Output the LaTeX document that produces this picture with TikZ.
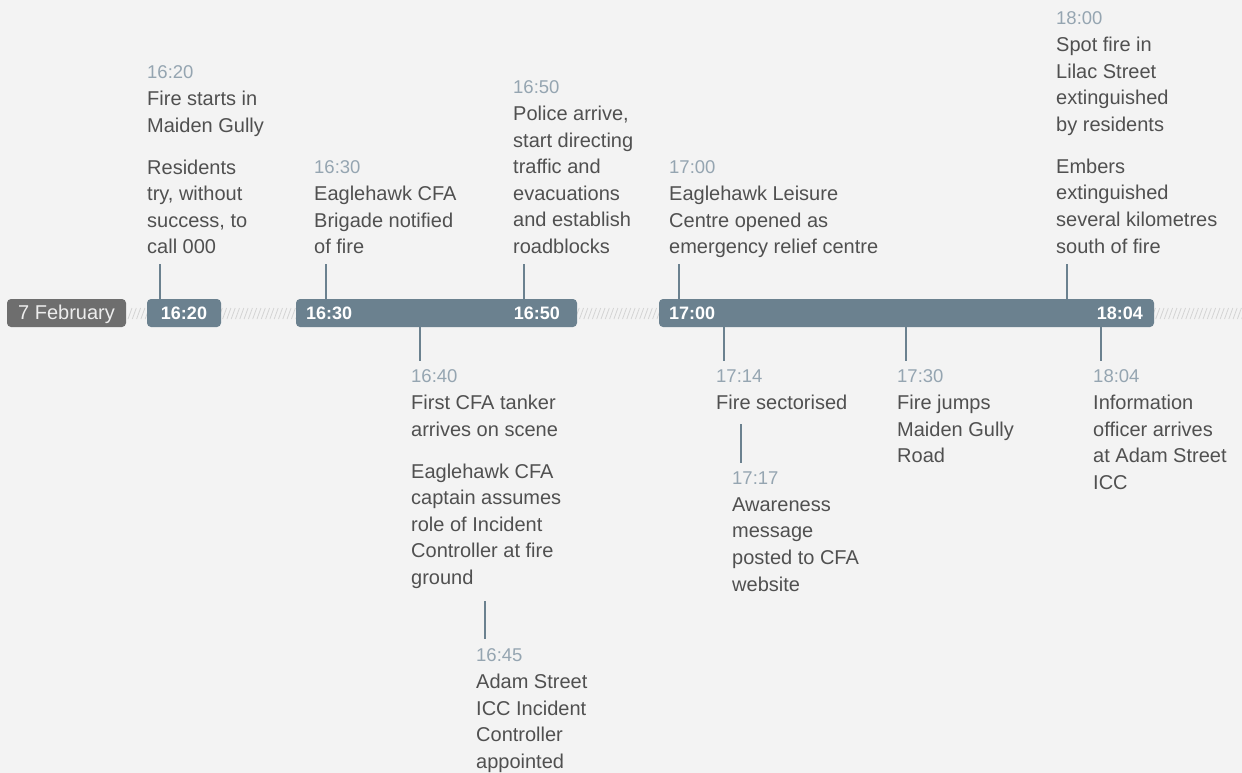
\documentclass[tikz,border=0pt]{standalone}
\usepackage{fontspec}
\setmainfont{Liberation Sans}
\usetikzlibrary{positioning}

\definecolor{bgcol}{HTML}{F3F3F3}
\definecolor{barcol}{HTML}{6B818F}
\definecolor{datecol}{HTML}{6E6E6E}
\definecolor{timecol}{HTML}{95A5B1}
\definecolor{txtcol}{HTML}{505050}
\definecolor{hatchcol}{HTML}{D4D4D4}
\newcommand{\evtime}[1]{{\fontsize{18.5}{26.6}\selectfont\color{timecol}#1}}

\begin{document}
\begin{tikzpicture}[x=1pt,y=-1pt,
  event/.style={anchor=north west,align=left,inner sep=0pt,text=txtcol,
                font=\fontsize{20}{26.6}\selectfont},
  seg/.style={fill=barcol,rounded corners=4pt,minimum height=28pt,inner sep=0pt},
  datebox/.style={fill=datecol,rounded corners=4pt,minimum height=28pt,minimum width=119pt,
                  inner sep=0pt,text height=13pt,text depth=0pt,text=white!93!black,
                  font=\fontsize{20}{24}\selectfont},
  barlab/.style={text=white,font=\bfseries\fontsize{18}{20}\selectfont,inner sep=0pt},
  tick/.style={draw=barcol,line width=1.4pt},
  hatch/.style={draw=hatchcol,line width=0.8pt}]

\useasboundingbox (0,0) rectangle (1242,773);
\fill[bgcol] (0,0) rectangle (1242,773);

% hatched gaps on the time line
\foreach \x in {128,132.3,...,1242}
  \draw[hatch] (\x,319) -- ++(4,-11);

\node[datebox] (date) at (66.5,313) {7 February};
\node[seg,minimum width=74pt,barlab] (seg1) at (184,313) {16:20};
\node[seg,minimum width=281pt] (seg2) at (436.5,313) {};
\node[seg,minimum width=495pt] (seg3) at (906.5,313) {};
\node[barlab,anchor=west] (l1630) at ([xshift=10pt]seg2.west) {16:30};
\node[barlab,anchor=east] (l1650) at ([xshift=-17pt]seg2.east) {16:50};
\node[barlab,anchor=west] (l1700) at ([xshift=10pt]seg3.west) {17:00};
\node[barlab,anchor=east] (l1804) at ([xshift=-11pt]seg3.east) {18:04};

% events above the line
\node[event] (e1620) at (147,65.8)
  {\evtime{16:20}\\Fire starts in\\Maiden Gully\\[15.4pt]Residents\\try, without\\success, to\\call 000};
\node[event] (e1630) at (314,160.8)
  {\evtime{16:30}\\Eaglehawk CFA\\Brigade notified\\of fire};
\node[event] (e1650) at (513,80.8)
  {\evtime{16:50}\\Police arrive,\\start directing\\traffic and\\evacuations\\and establish\\roadblocks};
\node[event] (e1700) at (669,160.8)
  {\evtime{17:00}\\Eaglehawk Leisure\\Centre opened as\\emergency relief centre};
\node[event] (e1800) at (1056,11.8)
  {\evtime{18:00}\\Spot fire in\\Lilac Street\\extinguished\\by residents\\[15.4pt]Embers\\extinguished\\several kilometres\\south of fire};

% events below the line
\node[event] (e1640) at (411,369.8)
  {\evtime{16:40}\\First CFA tanker\\arrives on scene\\[15.4pt]Eaglehawk CFA\\captain assumes\\role of Incident\\Controller at fire\\ground};
\node[event] (e1645) at (476,648.8)
  {\evtime{16:45}\\Adam Street\\ICC Incident\\Controller\\appointed};
\node[event] (e1714) at (716,369.8) {\evtime{17:14}\\Fire sectorised};
\node[event] (e1717) at (732,471.8)
  {\evtime{17:17}\\Awareness\\message\\posted to CFA\\website};
\node[event] (e1730) at (897,369.8) {\evtime{17:30}\\Fire jumps\\Maiden Gully\\Road};
\node[event] (e1804) at (1093,369.8)
  {\evtime{18:04}\\Information\\officer arrives\\at Adam Street\\ICC};

\coordinate (t1620) at (160,264);
\coordinate (t1630) at (326,264);
\coordinate (t1650) at (524,264);
\coordinate (t1700) at (679,264);
\coordinate (t1800) at (1067,264);
\coordinate (b1640) at (420,361);
\coordinate (b1714) at (724,361);
\coordinate (b1730) at (906,361);
\coordinate (b1804) at (1101,361);
\coordinate (k1717a) at (741,424);
\coordinate (k1717b) at (741,463);
\coordinate (k1645a) at (485,601);
\coordinate (k1645b) at (485,639);

\draw[tick] (seg1.north -| t1620) -- (t1620);
\draw[tick] (seg2.north -| t1630) -- (t1630);
\draw[tick] (seg2.north -| t1650) -- (t1650);
\draw[tick] (seg3.north -| t1700) -- (t1700);
\draw[tick] (seg3.north -| t1800) -- (t1800);
\draw[tick] (seg2.south -| b1640) -- (b1640);
\draw[tick] (seg3.south -| b1714) -- (b1714);
\draw[tick] (seg3.south -| b1730) -- (b1730);
\draw[tick] (seg3.south -| b1804) -- (b1804);
\draw[tick] (k1717a) -- (k1717b);
\draw[tick] (k1645a) -- (k1645b);
\end{tikzpicture}
\end{document}
